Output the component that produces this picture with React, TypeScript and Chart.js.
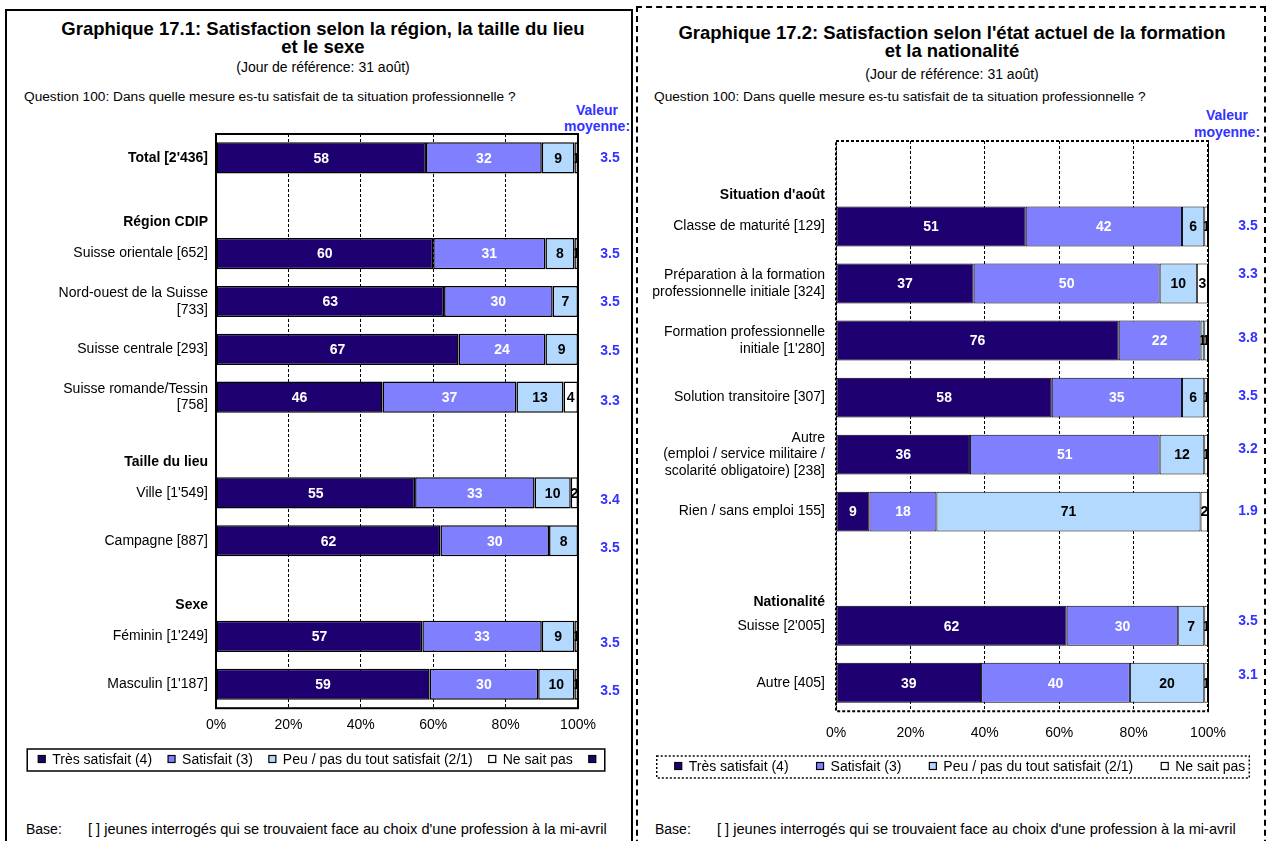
import React, { useEffect, useRef } from "react";
import { Chart, registerables } from "chart.js";

Chart.register(...registerables);

const FONT = "'Liberation Sans', Arial, Helvetica, sans-serif";

// ---------- Data ----------
const seriesNames = [
  "Très satisfait (4)",
  "Satisfait (3)",
  "Peu / pas du tout satisfait (2/1)",
  "Ne sait pas",
];
const seriesColors = ["#1F0070", "#8080FF", "#B3D9FF", "#FFFFFF"];
const valueLabelColors = ["#FFFFFF", "#FFFFFF", "#000000", "#000000"];

// Left chart (17.1)
const leftCategories: (string | string[])[] = [
  "Total [2'436]",
  ["", "", "Région CDIP"],
  "Suisse orientale [652]",
  ["Nord-ouest de la Suisse", "[733]"],
  "Suisse centrale [293]",
  ["Suisse romande/Tessin", "[758]"],
  ["", "", "Taille du lieu"],
  "Ville [1'549]",
  "Campagne [887]",
  ["", "", "Sexe"],
  "Féminin [1'249]",
  "Masculin [1'187]",
];
const leftBold = [0, 1, 6, 9];
const leftTres = [58, null, 60, 63, 67, 46, null, 55, 62, null, 57, 59];
const leftSatisfait = [32, null, 31, 30, 24, 37, null, 33, 30, null, 33, 30];
const leftPeu = [9, null, 8, 7, 9, 13, null, 10, 8, null, 9, 10];
const leftNeSaitPas = [1, null, 1, 0, 0, 4, null, 2, 0, null, 1, 1];
const leftMeans = [3.5, null, 3.5, 3.5, 3.5, 3.3, null, 3.4, 3.5, null, 3.5, 3.5];

// Right chart (17.2)
const rightCategories: (string | string[])[] = [
  ["", "", "", "Situation d'août"],
  "Classe de maturité [129]",
  ["Préparation à la formation", "professionnelle initiale [324]"],
  ["Formation professionnelle", "initiale [1'280]"],
  "Solution transitoire [307]",
  ["Autre", "(emploi / service militaire /", "scolarité obligatoire) [238]"],
  "Rien / sans emploi 155]",
  ["", "", "", "", "Nationalité"],
  "Suisse [2'005]",
  "Autre [405]",
];
const rightBold = [0, 7];
const rightTres = [null, 51, 37, 76, 58, 36, 9, null, 62, 39];
const rightSatisfait = [null, 42, 50, 22, 35, 51, 18, null, 30, 40];
const rightPeu = [null, 6, 10, 1, 6, 12, 71, null, 7, 20];
const rightNeSaitPas = [null, 1, 3, 1, 1, 1, 2, null, 1, 1];
const rightMeans = [null, 3.5, 3.3, 3.8, 3.5, 3.2, 1.9, null, 3.5, 3.1];

const xTicks = [0, 20, 40, 60, 80, 100];

// ---------- Plugins ----------
function makeFrame(width: number, dash: number[]) {
  return {
    id: "frame",
    afterDatasetsDraw(chart: any) {
      const { ctx, chartArea: a } = chart;
      ctx.save();
      ctx.strokeStyle = "#000";
      ctx.lineWidth = width;
      ctx.setLineDash(dash);
      ctx.strokeRect(a.left, a.top, a.right - a.left, a.bottom - a.top);
      ctx.restore();
    },
  };
}

const valueLabels = {
  id: "valueLabels",
  afterDatasetsDraw(chart: any) {
    const ctx = chart.ctx;
    ctx.save();
    ctx.font = `bold 14px ${FONT}`;
    ctx.textAlign = "center";
    ctx.textBaseline = "middle";
    chart.data.datasets.forEach((ds: any, di: number) => {
      if (di > 3) return;
      const meta = chart.getDatasetMeta(di);
      meta.data.forEach((el: any, i: number) => {
        const v = ds.data[i];
        if (v == null || v <= 0) return;
        const { x, y, base, height } = el.getProps(["x", "y", "base", "height"], true);
        const l = Math.min(x, base);
        const r = Math.max(x, base);
        ctx.save();
        ctx.beginPath();
        ctx.rect(l, y - height / 2, r - l, height);
        ctx.clip();
        ctx.fillStyle = valueLabelColors[di];
        ctx.fillText(String(v), (l + r) / 2, y + 1);
        ctx.restore();
      });
    });
    ctx.restore();
  },
};

function makeMeans(values: (number | null)[], dx: number, dy: number[]) {
  return {
    id: "means",
    afterDraw(chart: any) {
      const ctx = chart.ctx;
      const ys = chart.scales.y;
      ctx.save();
      ctx.font = `bold 14px ${FONT}`;
      ctx.fillStyle = "#3333FF";
      ctx.textAlign = "center";
      ctx.textBaseline = "middle";
      values.forEach((v, i) => {
        if (v == null) return;
        ctx.fillText(v.toFixed(1), chart.chartArea.right + dx, ys.getPixelForValue(i) + (dy[i] || 0));
      });
      ctx.restore();
    },
  };
}

function makeLegend(opt: {
  cx: number;
  y: number;
  gap: number;
  padL: number;
  padR: number;
  h: number;
  dash: number[];
  lineWidth: number;
  extra: boolean;
}) {
  return {
    id: "boxLegend",
    afterDraw(chart: any) {
      const ctx = chart.ctx;
      const items = seriesNames.map((t, k) => ({ text: t, color: seriesColors[k] }));
      if (opt.extra) items.push({ text: "", color: seriesColors[0] });
      const box = 7;
      const tg = 7;
      ctx.save();
      ctx.font = `14px ${FONT}`;
      const widths = items.map((it) => box + tg + ctx.measureText(it.text).width);
      const total = widths.reduce((a, b) => a + b, 0) + opt.gap * (items.length - 1);
      let x = opt.cx - total / 2;
      const y = opt.y;
      ctx.strokeStyle = "#000";
      ctx.lineWidth = opt.lineWidth;
      ctx.setLineDash(opt.dash);
      ctx.strokeRect(x - opt.padL, y - opt.h / 2, total + opt.padL + opt.padR, opt.h);
      ctx.setLineDash([]);
      ctx.textBaseline = "middle";
      ctx.textAlign = "left";
      items.forEach((it, i) => {
        ctx.fillStyle = it.color;
        ctx.fillRect(x, y - box / 2 - 1, box, box);
        ctx.lineWidth = 1.2;
        ctx.strokeStyle = "#000";
        ctx.strokeRect(x, y - box / 2 - 1, box, box);
        ctx.fillStyle = "#000";
        ctx.fillText(it.text, x + box + tg, y);
        x += widths[i] + opt.gap;
      });
      ctx.restore();
    },
  };
}

type Spec = {
  categories: (string | string[])[];
  bold: number[];
  values: (number | null)[][];
  means: (number | null)[];
  meanDx: number;
  meanDy: number[];
  yWidth: number;
  yPad: number;
  padRight: number;
  padBottom: number;
  xPad: number;
  barPct: number;
  barBorder: number;
  frameDash: number[];
  legend: any;
};

function makeConfig(p: Spec): any {
  return {
    type: "bar",
    data: {
      labels: p.categories,
      datasets: p.values.map((vals, k) => ({
        label: seriesNames[k],
        data: vals,
        backgroundColor: seriesColors[k],
        borderColor: "#000",
        borderWidth: p.barBorder,
        borderSkipped: false,
        barPercentage: p.barPct,
        categoryPercentage: 1,
      })),
    },
    options: {
      indexAxis: "y",
      responsive: false,
      animation: false,
      events: [],
      layout: { padding: { top: 6, right: p.padRight, bottom: p.padBottom, left: 0 } },
      plugins: { legend: { display: false }, tooltip: { enabled: false }, title: { display: false } },
      scales: {
        x: {
          stacked: true,
          min: 0,
          max: 100,
          afterBuildTicks: (s: any) => {
            s.ticks = xTicks.map((v) => ({ value: v }));
          },
          ticks: {
            callback: (v: any) => v + "%",
            font: { size: 14, family: FONT },
            color: "#000",
            padding: p.xPad,
          },
          grid: { color: "#000", lineWidth: 1, drawTicks: false },
          border: { display: false, dash: [3, 2] },
          afterFit: (s: any) => {
            s.paddingLeft = 0;
            s.paddingRight = 0;
          },
        },
        y: {
          stacked: true,
          ticks: {
            autoSkip: false,
            color: "#000",
            padding: p.yPad,
            font: (ctx: any) => ({
              size: 14,
              family: FONT,
              lineHeight: 1.2,
              weight: p.bold.includes(ctx.index) ? "bold" : "normal",
            }),
          },
          grid: { display: false, drawTicks: false },
          border: { display: false },
          afterFit: (s: any) => {
            s.width = p.yWidth;
            s.paddingTop = 0;
            s.paddingBottom = 0;
          },
        },
      },
    },
    plugins: [
      makeFrame(2, p.frameDash),
      valueLabels,
      makeMeans(p.means, p.meanDx, p.meanDy),
      makeLegend(p.legend),
    ],
  };
}

function ChartCanvas({ spec, style, width, height }: { spec: Spec; style: React.CSSProperties; width: number; height: number }) {
  const ref = useRef<HTMLCanvasElement | null>(null);
  useEffect(() => {
    if (!ref.current) return;
    const chart = new Chart(ref.current, makeConfig(spec));
    return () => chart.destroy();
  }, [spec]);
  return <canvas ref={ref} width={width} height={height} style={{ position: "absolute", width, height, ...style }} />;
}

const leftSpec: Spec = {
  categories: leftCategories,
  bold: leftBold,
  values: [leftTres, leftSatisfait, leftPeu, leftNeSaitPas],
  means: leftMeans,
  meanDx: 32,
  meanDy: [0, 0, 1, 1, 2, 4, 0, 7, 7, 0, 7, 7],
  yWidth: 206,
  yPad: 8,
  padRight: 52,
  padBottom: 45,
  xPad: 9,
  barPct: 0.65,
  barBorder: 1.5,
  frameDash: [],
  legend: { cx: 310.5, y: 632, gap: 16, padL: 11, padR: 2, h: 22, dash: [], lineWidth: 1.5, extra: true },
};

const rightSpec: Spec = {
  categories: rightCategories,
  bold: rightBold,
  values: [rightTres, rightSatisfait, rightPeu, rightNeSaitPas],
  means: rightMeans,
  meanDx: 40,
  meanDy: [0, 0, -9, -2, -1, -5, 0, 0, -5, -8],
  yWidth: 196,
  yPad: 11,
  padRight: 56,
  padBottom: 44,
  xPad: 14,
  barPct: 0.7,
  barBorder: 1,
  frameDash: [3, 2],
  legend: { cx: 320, y: 632, gap: 28, padL: 18, padR: 4, h: 22, dash: [2, 2], lineWidth: 1.5, extra: false },
};

const abs = (s: React.CSSProperties): React.CSSProperties => ({ position: "absolute", ...s });

export default function App() {
  return (
    <div
      style={{
        position: "absolute",
        left: 0,
        top: 0,
        width: 1268,
        height: 841,
        overflow: "hidden",
        background: "#fff",
        fontFamily: FONT,
        color: "#000",
      }}
    >
      {/* Left panel */}
      <div style={abs({ left: 5, top: 9, width: 628, height: 900, border: "2px solid #000", boxSizing: "border-box" })} />
      <div style={abs({ left: 5, top: 20, width: 636, textAlign: "center", fontWeight: "bold", fontSize: 18.5, lineHeight: "18px", whiteSpace: "nowrap" })}>
        Graphique 17.1: Satisfaction selon la région, la taille du lieu
        <br />
        et le sexe
      </div>
      <div style={abs({ left: 5, top: 59, width: 636, textAlign: "center", fontSize: 14, lineHeight: "16px" })}>
        (Jour de référence: 31 août)
      </div>
      <div style={abs({ left: 24, top: 89, fontSize: 13.7, lineHeight: "16px", whiteSpace: "nowrap" })}>
        Question 100: Dans quelle mesure es-tu satisfait de ta situation professionnelle ?
      </div>
      <div style={abs({ left: 547, top: 102, width: 100, textAlign: "center", fontSize: 14, lineHeight: "16px", fontWeight: "bold", color: "#3333FF" })}>
        Valeur
        <br />
        moyenne:
      </div>
      <ChartCanvas spec={leftSpec} width={620} height={660} style={{ left: 10, top: 128 }} />
      <div style={abs({ left: 26, top: 821, fontSize: 14, lineHeight: "16px", whiteSpace: "nowrap" })}>Base:</div>
      <div style={abs({ left: 88, top: 821, fontSize: 14.6, lineHeight: "16px", whiteSpace: "nowrap" })}>
        [ ] jeunes interrogés qui se trouvaient face au choix d'une profession à la mi-avril
      </div>

      {/* Right panel */}
      <div style={abs({ left: 636, top: 6, width: 630, height: 900, border: "2px dashed #000", boxSizing: "border-box" })} />
      <div style={abs({ left: 636, top: 24, width: 632, textAlign: "center", fontWeight: "bold", fontSize: 18.5, lineHeight: "18px", whiteSpace: "nowrap" })}>
        Graphique 17.2: Satisfaction selon l'état actuel de la formation
        <br />
        et la nationalité
      </div>
      <div style={abs({ left: 636, top: 66, width: 632, textAlign: "center", fontSize: 14, lineHeight: "16px" })}>
        (Jour de référence: 31 août)
      </div>
      <div style={abs({ left: 654, top: 89, fontSize: 13.7, lineHeight: "16px", whiteSpace: "nowrap" })}>
        Question 100: Dans quelle mesure es-tu satisfait de ta situation professionnelle ?
      </div>
      <div style={abs({ left: 1177, top: 107, width: 100, textAlign: "center", fontSize: 14, lineHeight: "17px", fontWeight: "bold", color: "#3333FF" })}>
        Valeur
        <br />
        moyenne:
      </div>
      <ChartCanvas spec={rightSpec} width={624} height={665} style={{ left: 640, top: 135 }} />
      <div style={abs({ left: 655, top: 821, fontSize: 14, lineHeight: "16px", whiteSpace: "nowrap" })}>Base:</div>
      <div style={abs({ left: 717, top: 821, fontSize: 14.6, lineHeight: "16px", whiteSpace: "nowrap" })}>
        [ ] jeunes interrogés qui se trouvaient face au choix d'une profession à la mi-avril
      </div>
    </div>
  );
}
